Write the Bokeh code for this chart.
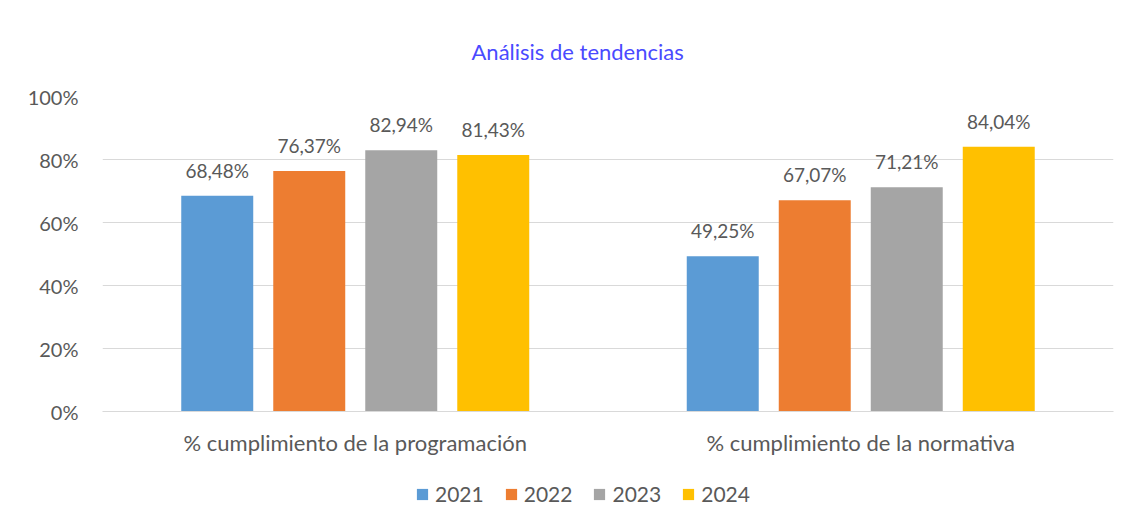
from bokeh.plotting import figure
from bokeh.layouts import column
from bokeh.models import (ColumnDataSource, FactorRange, Range1d, FixedTicker, PrintfTickFormatter,
                          LabelSet, Legend, LegendItem, Title)
from bokeh.core.properties import value
from bokeh.transform import dodge
from bokeh.embed import file_html
from bokeh.resources import INLINE

categories = ["% cumplimiento de la programación", "% cumplimiento de la normativa"]
years = ["2021", "2022", "2023", "2024"]
colors = ["#5B9BD5", "#ED7D31", "#A5A5A5", "#FFC000"]
values_2021 = [68.48, 49.25]
values_2022 = [76.37, 67.07]
values_2023 = [82.94, 71.21]
values_2024 = [81.43, 84.04]
series = [values_2021, values_2022, values_2023, values_2024]
y_ticks = [0, 20, 40, 60, 80, 100]

FONT = "Lato"
TXT = "#595959"

p = figure(x_range=FactorRange(*categories, range_padding=0), y_range=Range1d(0, 100),
           width=1130, height=461, output_backend="svg", toolbar_location=None,
           min_border_left=102, min_border_right=17, min_border_top=96, min_border_bottom=50)

p.title = Title(text="Análisis de tendencias", align="left", text_font=FONT,
                text_font_size="22px", text_font_style="normal", text_color="#4A4AFF",
                standoff=64, offset=369)

step = 0.182
width = 0.1424
for j, (yr, col, vals) in enumerate(zip(years, colors, series)):
    src = ColumnDataSource(dict(cat=categories, val=vals,
                                lab=[f"{v:.2f}".replace(".", ",") + "%" for v in vals]))
    off = (j - 1.5) * step
    p.vbar(x=dodge("cat", off, range=p.x_range), top="val", width=width, source=src,
           fill_color=col, line_color=None)
    p.add_layout(LabelSet(x=dodge("cat", off, range=p.x_range), y="val", text="lab", source=src,
                          text_align="center", text_baseline="bottom", y_offset=14,
                          text_font=value(FONT), text_font_size="19px", text_color=TXT))

p.outline_line_color = None
p.xgrid.grid_line_color = None
p.ygrid.grid_line_color = "#d9d9d9"
p.ygrid.grid_line_width = 1

p.yaxis.ticker = FixedTicker(ticks=y_ticks)
p.yaxis.formatter = PrintfTickFormatter(format="%d%%")
p.yaxis.axis_line_color = None
p.yaxis.major_tick_line_color = None
p.yaxis.minor_tick_line_color = None
p.yaxis.major_label_standoff = 18
p.yaxis.major_label_text_font = FONT
p.yaxis.major_label_text_font_size = "20px"
p.yaxis.major_label_text_color = TXT

p.xaxis.axis_line_color = "#d9d9d9"
p.xaxis.major_tick_line_color = None
p.xaxis.minor_tick_line_color = None
p.xaxis.major_label_standoff = 11
p.xaxis.major_label_text_font = FONT
p.xaxis.major_label_text_font_size = "22px"
p.xaxis.major_label_text_color = TXT

# legend in its own strip below the chart
pl = figure(width=1130, height=62, output_backend="svg", toolbar_location=None,
            x_range=Range1d(0, 1), y_range=Range1d(0, 1),
            min_border_left=0, min_border_right=0, min_border_top=0, min_border_bottom=0)
pl.axis.visible = False
pl.grid.visible = False
pl.outline_line_color = None
items = []
for yr, col in zip(years, colors):
    r = pl.vbar(x=[-5], top=[-5], width=1, fill_color=col, line_color=None)
    items.append(LegendItem(label=yr, renderers=[r]))
legend = Legend(items=items, orientation="horizontal", location=(313, 17),
                glyph_width=14, glyph_height=14, label_standoff=6, spacing=20,
                label_text_font=FONT, label_text_font_size="21px", label_text_color=TXT,
                background_fill_alpha=0, border_line_color=None)
pl.add_layout(legend, "center")

layout = column(p, pl, spacing=0)
open("out.html", "w").write(file_html(layout, INLINE))
